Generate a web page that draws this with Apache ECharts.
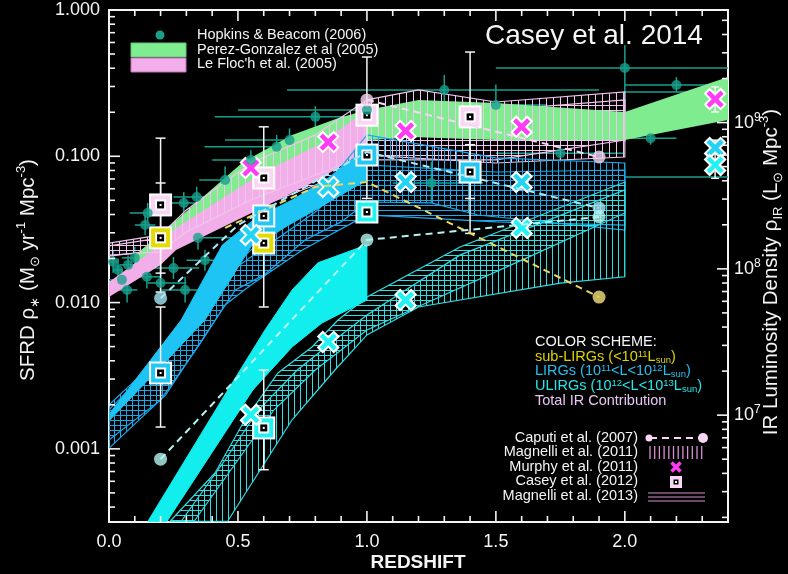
<!DOCTYPE html>
<html><head><meta charset="utf-8">
<script src="https://cdn.jsdelivr.net/npm/echarts@6/dist/echarts.min.js"></script>
<style>html,body{margin:0;padding:0;background:#000}#c{width:788px;height:574px}</style>
</head><body><div id="c"></div>
<script>
const FONT = '"Liberation Sans", Arial, Helvetica, sans-serif';
// ---------- axes / ticks ----------
const xMajorTicks = [0, 0.5, 1.0, 1.5, 2.0];
const xMinorTicks = [0.1,0.2,0.3,0.4,0.6,0.7,0.8,0.9,1.1,1.2,1.3,1.4,1.6,1.7,1.8,1.9,2.1,2.2,2.3];
const yMajorTicks = [0.001, 0.01, 0.1, 1];
const yMinorTicks = [0.0004,0.0005,0.0006,0.0007,0.0008,0.0009,0.002,0.003,0.004,0.005,0.006,0.007,0.008,0.009,
  0.02,0.03,0.04,0.05,0.06,0.07,0.08,0.09,0.2,0.3,0.4,0.5,0.6,0.7,0.8,0.9];
const lumMajorTicks = [1e7, 1e8, 1e9];
const lumMinorTicks = [2e6,3e6,4e6,5e6,6e6,7e6,8e6,9e6,2e7,3e7,4e7,5e7,6e7,7e7,8e7,9e7,2e8,3e8,4e8,5e8,6e8,7e8,8e8,9e8,2e9,3e9,4e9,5e9];
const SFR_PER_LIR = 1.7e-10;
const Y_MIN = Math.pow(10, -3.5), Y_MAX = 1;
const X_MIN = 0, X_MAX = 2.4;

// ---------- Hopkins & Beacom (2006): [z, sfrd, zLo, zHi, sfrdLo, sfrdHi] ----------
const hopkinsPoints = [
  [0.016,0.0190,0.0,0.03,0.0160,0.0225],[0.035,0.0167,0.02,0.05,0.0140,0.0200],
  [0.05,0.0143,0.0,0.10,0.0120,0.0170],[0.07,0.0122,0.03,0.11,0.0100,0.0150],
  [0.074,0.0181,0.04,0.11,0.0155,0.0210],[0.10,0.0202,0.05,0.15,0.0170,0.0240],
  [0.14,0.0339,0.10,0.18,0.0290,0.0400],[0.147,0.0150,0.10,0.20,0.0125,0.0180],
  [0.15,0.0410,0.08,0.22,0.0350,0.0480],[0.20,0.0136,0.15,0.30,0.0115,0.0160],
  [0.25,0.0172,0.15,0.35,0.0145,0.0205],[0.29,0.0480,0.20,0.40,0.0400,0.0570],
  [0.295,0.0122,0.20,0.40,0.0100,0.0150],[0.34,0.0527,0.25,0.45,0.0450,0.0620],
  [0.345,0.0277,0.20,0.50,0.0230,0.0330],[0.372,0.0195,0.30,0.45,0.0165,0.0230],
  [0.45,0.0689,0.35,0.75,0.0550,0.0850],[0.55,0.0944,0.40,0.70,0.0800,0.1100],
  [0.65,0.116,0.37,0.95,0.0950,0.1400],[0.70,0.129,0.45,1.05,0.1050,0.1550],
  [0.80,0.186,0.41,1.20,0.1550,0.2200],[1.00,0.207,0.50,1.60,0.1700,0.2500],
  [1.25,0.0657,1.10,1.45,0.0480,0.0920],[1.30,0.284,0.69,1.90,0.2200,0.3600],
  [1.50,0.224,1.30,1.70,0.1450,0.3100],[1.75,0.105,1.50,2.00,0.0920,0.1200],
  [2.00,0.402,1.50,3.00,0.1250,0.5760],[2.10,0.133,2.00,2.20,0.1200,0.1450],
  [2.20,0.307,2.00,2.60,0.2750,0.3480],[2.50,0.0722,2.00,3.00,0.0650,0.0800],
  [2.80,0.275,2.00,3.50,0.2400,0.3100]
];

// ---------- bands: [z, sfrd] ----------
const perezUpper = [[0.10,0.0211],[0.24,0.0339],[0.52,0.0914],[0.71,0.140],[0.89,0.183],[1.0,0.207],[1.2,0.243],[1.5,0.231],[2.0,0.201],[2.4,0.348]];
const perezLower = [[0.10,0.0172],[0.24,0.0229],[0.52,0.0544],[0.71,0.0806],[0.89,0.110],[1.0,0.129],[1.2,0.135],[1.5,0.129],[2.0,0.129],[2.4,0.177]];
const leflochUpper = [[0,0.0138],[0.2,0.0248],[0.26,0.0324],[0.6,0.0781],[0.81,0.119],[1.0,0.207]];
const leflochLower = [[0,0.0109],[0.2,0.0181],[0.26,0.0229],[0.6,0.0450],[0.81,0.0689],[1.0,0.110]];
const mag11TotUpper = [[0,0.0255],[0.2,0.0290],[0.3,0.0430],[0.55,0.0900],[0.8,0.140],[1.0,0.243],[1.2,0.284],[1.5,0.235],[2.0,0.275]];
const mag11TotLower = [[0,0.0211],[0.2,0.0222],[0.3,0.0304],[0.55,0.0503],[0.8,0.0745],[1.0,0.102],[1.5,0.0900],[2.0,0.0989]];
const mag13TotUpper = [[0,0.0244],[0.2,0.0277],[0.5,0.0637],[0.8,0.110],[1.0,0.164],[1.5,0.207],[2.0,0.243]];
const mag13TotLower = [[0,0.0208],[0.2,0.0229],[0.5,0.0397],[0.8,0.0637],[1.0,0.0944],[1.5,0.0944],[2.0,0.129]];
const leflochLirgUpper = [[0.004,0.00176],[0.28,0.00760],[0.44,0.0248],[0.57,0.0379],[0.71,0.0503],[0.85,0.0711],[1.0,0.114]];
const leflochLirgLower = [[0.004,0.00158],[0.2,0.00363],[0.372,0.00760],[0.555,0.0248],[0.65,0.0304],[0.8,0.0430],[1.0,0.0689]];
const mag11LirgUpper = [[0,0.00200],[0.25,0.00513],[0.4,0.0122],[0.55,0.0229],[0.75,0.0397],[1.0,0.140],[1.5,0.0974],[2.0,0.0900]];
const mag11LirgLower = [[0,0.00101],[0.22,0.00234],[0.36,0.00555],[0.49,0.0122],[0.6,0.0154],[0.76,0.0268],[0.9,0.0356],[1.0,0.0487],[1.25,0.0480],[1.43,0.0397],[2.0,0.0313]];
const mag13LirgUpper = [[0,0.00185],[0.25,0.00513],[0.45,0.0154],[0.6,0.0236],[0.8,0.0416],[1.0,0.0872],[1.5,0.0781],[2.0,0.0806]];
const mag13LirgLower = [[0,0.00115],[0.2,0.00216],[0.35,0.00513],[0.45,0.00963],[0.55,0.0132],[0.75,0.0229],[1.0,0.0397],[1.5,0.0356],[2.0,0.0339]];
const leflochUlirgUpper = [[0.151,0.00032],[0.461,0.00253],[0.605,0.00650],[0.71,0.0122],[0.81,0.0187],[1.0,0.0248]];
const leflochUlirgLower = [[0.225,0.00032],[0.558,0.00253],[0.71,0.00497],[0.826,0.00726],[1.0,0.0104]];
const mag13UlirgUpper = [[0.237,0.00032],[0.411,0.000684],[0.527,0.00158],[0.655,0.00330],[0.787,0.00497],[0.888,0.00760],[1.0,0.0109],[1.361,0.0240],[2.0,0.0667]];
const mag13UlirgLower = [[0.33,0.00032],[0.50,0.000839],[0.64,0.00185],[0.80,0.00346],[1.0,0.00650],[1.23,0.00993],[1.62,0.0202],[2.0,0.0410]];
const mag11UlirgUpper = [[0.28,0.00032],[0.45,0.000839],[0.58,0.00185],[0.73,0.00346],[0.9,0.00601],[1.0,0.00823],[1.36,0.0211],[2.0,0.0589]];
const mag11UlirgLower = [[0.46,0.00032],[0.71,0.00158],[0.876,0.00346],[1.0,0.00601],[1.2,0.00933],[1.75,0.0136],[2.0,0.0150]];

// ---------- Caputi et al. (2007) ----------
const caputiTotal = [[1.0,0.243],[1.9,0.0989]];
const caputiSub = [[0.45,0.0324],[0.8,0.0617],[1.0,0.0667],[1.9,0.0109]];
const caputiLirg = [[0.2,0.0107],[0.5,0.0339],[1.0,0.107],[1.9,0.0443]];
const caputiUlirg = [[0.2,0.00085],[1.0,0.0268],[1.9,0.0385]];
const caputiTotalDots = [[1.0,0.243],[1.9,0.0989]];
const caputiSubDots = [[1.9,0.0109]];
const caputiLirgDots = [[0.2,0.0107],[1.9,0.0443]];
const caputiUlirgDots = [[0.2,0.00085],[1.0,0.0268],[1.9,0.0385]];

// ---------- Casey et al. (2012) ----------
const caseyTotal = [[0.2,0.0465],[0.6,0.0711],[1.0,0.191],[1.4,0.186]];
const caseySub = [[0.2,0.0277],[0.6,0.0255]];
const caseyLirg = [[0.2,0.00330],[0.6,0.0391],[1.0,0.102],[1.4,0.0781]];
const caseyUlirg = [[0.6,0.00139],[1.0,0.0416]];
const caseyErrors = [[0.2,0.0159,0.133],[0.2,0.0118,0.0657],[0.6,0.00933,0.159],[1.0,0.0515,0.477],[1.4,0.0515,0.516],
  [0.2,0.00141,0.00933],[1.4,0.0297,0.120],[0.6,0.00072,0.00346]];

// ---------- Murphy et al. (2011) ----------
const murphyTotal = [[0.55,0.0832],[0.85,0.125],[1.15,0.149],[1.6,0.159],[2.35,0.246]];
const murphyLirg = [[0.55,0.0290],[0.85,0.0617],[1.15,0.0667],[1.6,0.0667],[2.35,0.114]];
const murphyUlirg = [[0.55,0.00171],[0.85,0.00538],[1.15,0.0104],[1.6,0.0324],[2.35,0.0872]];
const murphyErrors = [[2.35,0.201,0.298],[2.35,0.0707,0.129]];

// ---------- colours ----------
const TEAL = '#17a08c', GREEN = '#80ec90', PINK = '#f2aee8', PINKLINE = '#f0c4ec',
  BLUE = '#1ec4f4', BLUELINE = '#1ea8ec', CYAN = '#12eeee', CYANLINE = '#30dde2',
  YELLOW = '#e2dc00', MAGENTA = '#ff3cf4', WHITE = '#f4f4f4', LTPINK = '#f8d6f4';

function hatch(color, dir, gap, lw) {
  const c = document.createElement('canvas'); c.width = gap; c.height = gap;
  const g = c.getContext('2d'); g.strokeStyle = color; g.lineWidth = lw; g.beginPath();
  if (dir === 'v') { g.moveTo(0.5, 0); g.lineTo(0.5, gap); } else { g.moveTo(0, 0.5); g.lineTo(gap, 0.5); }
  g.stroke();
  return { image: c, repeat: 'repeat' };
}
function band(upper, lower, fill, stroke, lw) {
  return { type: 'custom', clip: true, silent: true, data: [upper[0]],
    renderItem: (params, api) => {
      const pts = upper.map(p => api.coord(p)).concat(lower.slice().reverse().map(p => api.coord(p)));
      return { type: 'polygon', shape: { points: pts }, style: { fill: fill, stroke: stroke || null, lineWidth: lw || 0 } };
    } };
}
function dashed(data, color) {
  return { type: 'line', data: data, symbol: 'none', clip: true, silent: true,
    lineStyle: { color: color, width: 2, type: [7, 5] } };
}
function dots(data, color, size) {
  return { type: 'scatter', data: data, symbolSize: size, clip: true, silent: true, itemStyle: { color: color } };
}
function squares(data, color) {
  return { type: 'custom', clip: false, silent: true, data: data,
    renderItem: (params, api) => {
      const c = api.coord([api.value(0), api.value(1)]);
      const r = (s, f) => ({ type: 'rect', shape: { x: c[0] - s, y: c[1] - s, width: 2 * s, height: 2 * s }, style: { fill: f } });
      return { type: 'group', children: [r(11.5, '#ffffff'), r(9.5, color), r(5.5, '#ffffff'), r(3.5, '#000000'), r(1, '#ffffff')] };
    } };
}
function crosses(data, color) {
  return { type: 'custom', clip: false, silent: true, data: data,
    renderItem: (params, api) => {
      const c = api.coord([api.value(0), api.value(1)]);
      const l = (s, col, w) => [
        { type: 'line', shape: { x1: c[0] - s, y1: c[1] - s, x2: c[0] + s, y2: c[1] + s }, style: { stroke: col, lineWidth: w } },
        { type: 'line', shape: { x1: c[0] - s, y1: c[1] + s, x2: c[0] + s, y2: c[1] - s }, style: { stroke: col, lineWidth: w } }];
      return { type: 'group', children: l(8.5, '#ffffff', 8.5).concat(l(7, color, 4.5)) };
    } };
}
function errBars(rows, color, cap) {
  return { type: 'custom', clip: true, silent: true, data: rows,
    renderItem: (params, api) => {
      const z = api.value(0);
      const a = api.coord([z, api.value(1)]), b = api.coord([z, api.value(2)]);
      return { type: 'group', children: [
        { type: 'line', shape: { x1: a[0], y1: a[1], x2: b[0], y2: b[1] }, style: { stroke: color, lineWidth: 1.5 } },
        { type: 'line', shape: { x1: a[0] - cap, y1: a[1], x2: a[0] + cap, y2: a[1] }, style: { stroke: color, lineWidth: 1.5 } },
        { type: 'line', shape: { x1: b[0] - cap, y1: b[1], x2: b[0] + cap, y2: b[1] }, style: { stroke: color, lineWidth: 1.5 } }] };
    } };
}

const series = [];
series.push({ type: 'custom', clip: true, silent: true, data: hopkinsPoints,
  renderItem: (params, api) => {
    const z = api.value(0), v = api.value(1);
    const a = api.coord([api.value(2), v]), b = api.coord([api.value(3), v]);
    const c = api.coord([z, api.value(4)]), d = api.coord([z, api.value(5)]);
    return { type: 'group', children: [
      { type: 'line', shape: { x1: a[0], y1: a[1], x2: b[0], y2: b[1] }, style: { stroke: TEAL, lineWidth: 1.5 } },
      { type: 'line', shape: { x1: c[0], y1: c[1], x2: d[0], y2: d[1] }, style: { stroke: TEAL, lineWidth: 1.5 } }] };
  } });
series.push(dots(hopkinsPoints.map(r => [r[0], r[1]]), TEAL, 10));
series.push(band(mag13TotUpper, mag13TotLower, hatch(PINKLINE, 'h', 5, 1), PINKLINE, 1.2));
series.push(band(perezUpper, perezLower, GREEN));
series.push(band(leflochUpper, leflochLower, PINK));
series.push(band(mag11TotUpper, mag11TotLower, hatch(PINKLINE, 'v', 7, 1), PINKLINE, 1.2));
series.push(band(mag13LirgUpper, mag13LirgLower, hatch(BLUELINE, 'h', 5, 1), BLUELINE, 1.2));
series.push(band(mag11LirgUpper, mag11LirgLower, hatch(BLUELINE, 'v', 6, 1), BLUELINE, 1.2));
series.push(band(leflochLirgUpper, leflochLirgLower, BLUE, BLUE, 1));
series.push(band(mag13UlirgUpper, mag13UlirgLower, hatch(CYANLINE, 'h', 5, 1), CYANLINE, 1.2));
series.push(band(mag11UlirgUpper, mag11UlirgLower, hatch(CYANLINE, 'v', 6, 1), CYANLINE, 1.2));
series.push(band(leflochUlirgUpper, leflochUlirgLower, CYAN, CYAN, 1));
series.push(dashed(caputiTotal, LTPINK));
series.push(dashed(caputiSub, '#ecd860'));
series.push(dashed(caputiLirg, '#a8eaf8'));
series.push(dashed(caputiUlirg, '#b4f6f2'));
series.push(dots(caputiTotalDots, LTPINK, 13));
series.push(dots(caputiSubDots, '#f6e27a', 13));
series.push(dots(caputiLirgDots, '#a8eaf8', 13));
series.push(dots(caputiUlirgDots, '#b4f6f2', 13));
series.push(errBars(caseyErrors, WHITE, 5));
series.push(squares(caseyTotal, LTPINK));
series.push(squares(caseySub, YELLOW));
series.push(squares(caseyLirg, '#22c8f2'));
series.push(squares(caseyUlirg, '#22f2f2'));
series.push(errBars(murphyErrors, WHITE, 4));
series.push(crosses(murphyTotal, MAGENTA));
series.push(crosses(murphyLirg, '#22d4f4'));
series.push(crosses(murphyUlirg, '#22f2f2'));

const axLine = { show: true, onZero: false, lineStyle: { color: WHITE, width: 2 } };
const isPow = v => { const e = Math.log10(v); return Math.abs(e - Math.round(e)) < 1e-6; };

const T = (x, y, text, opt) => Object.assign({ type: 'text', x: x, y: y, z: 100, silent: true,
  style: Object.assign({ text: text, fill: WHITE, fontFamily: FONT, fontSize: 14.5, verticalAlign: 'middle' }, opt || {}) });
const supRich = (size) => ({ sup: { fontSize: size, verticalAlign: 'top', lineHeight: size, fontFamily: FONT },
  sub: { fontSize: size, verticalAlign: 'bottom', lineHeight: size, fontFamily: FONT } });
const graphics = [
  { type: 'circle', shape: { cx: 160, cy: 35, r: 4.5 }, style: { fill: TEAL }, z: 100 },
  { type: 'rect', shape: { x: 131, y: 43, width: 55, height: 14 }, style: { fill: GREEN, stroke: '#60c870', lineWidth: 1 }, z: 100 },
  { type: 'rect', shape: { x: 131, y: 58, width: 55, height: 14 }, style: { fill: PINK, stroke: '#c070b8', lineWidth: 1 }, z: 100 },
  T(197, 35, 'Hopkins & Beacom (2006)'),
  T(197, 50, 'Perez-Gonzalez et al (2005)'),
  T(197, 64, "Le Floc'h et al. (2005)"),
  T(485, 36, 'Casey et al. 2014', { fontSize: 28 }),
  T(535, 342, 'COLOR SCHEME:'),
  T(535, 357, 'sub-LIRGs (<10{sup|11}L{sub|sun})', { fill: '#dcd400', lineHeight: 16, rich: supRich(9.5) }),
  T(535, 371, 'LIRGs (10{sup|11}<L<10{sup|12}L{sub|sun})', { fill: '#22c0f0', lineHeight: 16, rich: supRich(9.5) }),
  T(535, 386, 'ULIRGs (10{sup|12}<L<10{sup|13}L{sub|sun})', { fill: '#22e8ec', lineHeight: 16, rich: supRich(9.5) }),
  T(535, 401, 'Total IR Contribution', { fill: '#e6c6f0' }),
  T(638, 438, 'Caputi et al. (2007)', { align: 'right' }),
  T(638, 452, 'Magnelli et al. (2011)', { align: 'right' }),
  T(638, 467, 'Murphy et al. (2011)', { align: 'right' }),
  T(638, 481, 'Casey et al. (2012)', { align: 'right' }),
  T(638, 496, 'Magnelli et al. (2013)', { align: 'right' }),
  { type: 'line', shape: { x1: 650, y1: 438, x2: 702, y2: 438 }, style: { stroke: LTPINK, lineWidth: 2, lineDash: [7, 5] }, z: 100 },
  { type: 'circle', shape: { cx: 649, cy: 438, r: 3.5 }, style: { fill: LTPINK }, z: 100 },
  { type: 'circle', shape: { cx: 703, cy: 438, r: 5 }, style: { fill: LTPINK }, z: 100 },
  { type: 'rect', shape: { x: 670, y: 476, width: 12, height: 12 }, style: { fill: LTPINK }, z: 100 },
  { type: 'rect', shape: { x: 673.5, y: 479.5, width: 5, height: 5 }, style: { fill: '#000' }, z: 101 },
  { type: 'rect', shape: { x: 675, y: 481, width: 2, height: 2 }, style: { fill: '#fff' }, z: 102 },
  { type: 'line', shape: { x1: 671.5, y1: 462.5, x2: 680.5, y2: 471.5 }, style: { stroke: MAGENTA, lineWidth: 3.5 }, z: 100 },
  { type: 'line', shape: { x1: 671.5, y1: 471.5, x2: 680.5, y2: 462.5 }, style: { stroke: MAGENTA, lineWidth: 3.5 }, z: 100 },
  { type: 'line', shape: { x1: 648, y1: 493, x2: 705, y2: 493 }, style: { stroke: '#d890d0', lineWidth: 1.2 }, z: 100 },
  { type: 'line', shape: { x1: 648, y1: 497, x2: 705, y2: 497 }, style: { stroke: '#d890d0', lineWidth: 1.2 }, z: 100 },
  { type: 'line', shape: { x1: 648, y1: 501, x2: 705, y2: 501 }, style: { stroke: '#d890d0', lineWidth: 1.2 }, z: 100 },
  T(418, 563, 'REDSHIFT', { fontSize: 19, fontWeight: 'bold', align: 'center' }),
  Object.assign(T(28, 270, 'SFRD ρ{sub|∗} (M{sub|⊙} yr{sup|-1} Mpc{sup|-3})',
    { fontSize: 20.5, align: 'center', lineHeight: 27, rich: supRich(13) }), { rotation: Math.PI / 2 }),
  Object.assign(T(771, 272, 'IR Luminosity Density ρ{sub|IR} (L{sub|⊙} Mpc{sup|-3})',
    { fontSize: 20.5, align: 'center', lineHeight: 27, rich: supRich(13) }), { rotation: Math.PI / 2 })
];
for (let i = 0; i < 12; i++) {
  const x = 650 + i * 4.7;
  graphics.push({ type: 'line', shape: { x1: x, y1: 446, x2: x, y2: 459 }, style: { stroke: '#d890d0', lineWidth: 1.3 }, z: 100 });
}

const option = {
  backgroundColor: '#000000',
  animation: false,
  grid: { left: 109, top: 10, width: 619, height: 512, containLabel: false },
  xAxis: [
    { type: 'value', min: X_MIN, max: X_MAX, interval: 0.5, position: 'bottom', axisLine: axLine, axisTick: { show: false }, splitLine: { show: false },
      axisLabel: { color: WHITE, fontSize: 18, fontFamily: FONT, margin: 11,
        formatter: v => (v <= 2.0001 && Math.abs(v * 2 - Math.round(v * 2)) < 1e-6) ? v.toFixed(1) : '' } },
    { type: 'value', min: X_MIN, max: X_MAX, interval: 0.5, position: 'top', axisLine: axLine, axisTick: { show: false }, splitLine: { show: false }, axisLabel: { show: false } }
  ],
  yAxis: [
    { type: 'log', logBase: 10, min: Y_MIN, max: Y_MAX, position: 'left', axisLine: axLine, axisTick: { show: false }, splitLine: { show: false },
      axisLabel: { color: WHITE, fontSize: 18, fontFamily: FONT, margin: 9, formatter: v => isPow(v) ? v.toFixed(3) : '' } },
    { type: 'log', logBase: 10, min: Y_MIN / SFR_PER_LIR, max: Y_MAX / SFR_PER_LIR, position: 'right', axisLine: axLine, axisTick: { show: false }, splitLine: { show: false },
      axisLabel: { color: WHITE, fontSize: 18, fontFamily: FONT, margin: 6,
        formatter: v => isPow(v) ? '{b|10}{s|' + Math.round(Math.log10(v)) + '}' : '',
        rich: { b: { fontSize: 18, fontFamily: FONT, color: WHITE, lineHeight: 22 }, s: { fontSize: 12, fontFamily: FONT, color: WHITE, verticalAlign: 'top', lineHeight: 12 } } } }
  ],
  series: series
};
const chart = echarts.init(document.getElementById('c'), null, { renderer: 'canvas', width: 788, height: 574 });
chart.setOption(option);

// axis ticks (major + minor, inward on all four sides), positioned through the axes' own scales
const tickEls = [];
const tl = (x1, y1, x2, y2) => tickEls.push({ type: 'line', z: 120, silent: true,
  shape: { x1: x1, y1: y1, x2: x2, y2: y2 }, style: { stroke: WHITE, lineWidth: 1.6 } });
const pX = v => chart.convertToPixel({ xAxisIndex: 0 }, v);
const pYL = v => chart.convertToPixel({ yAxisIndex: 0 }, v);
const pYR = v => chart.convertToPixel({ yAxisIndex: 1 }, v);
const gTop = pYL(Y_MAX), gBot = pYL(Y_MIN), gLeft = pX(X_MIN), gRight = pX(X_MAX);
xMajorTicks.forEach(v => { const x = pX(v); tl(x, gBot, x, gBot - 11); tl(x, gTop, x, gTop + 11); });
xMinorTicks.forEach(v => { const x = pX(v); tl(x, gBot, x, gBot - 6); tl(x, gTop, x, gTop + 6); });
yMajorTicks.forEach(v => { const y = pYL(v); tl(gLeft, y, gLeft + 11, y); });
yMinorTicks.forEach(v => { const y = pYL(v); tl(gLeft, y, gLeft + 6, y); });
lumMajorTicks.forEach(v => { const y = pYR(v); tl(gRight, y, gRight - 11, y); });
lumMinorTicks.forEach(v => { const y = pYR(v); tl(gRight, y, gRight - 6, y); });
chart.setOption({ graphic: graphics.concat(tickEls) });
</script></body></html>
